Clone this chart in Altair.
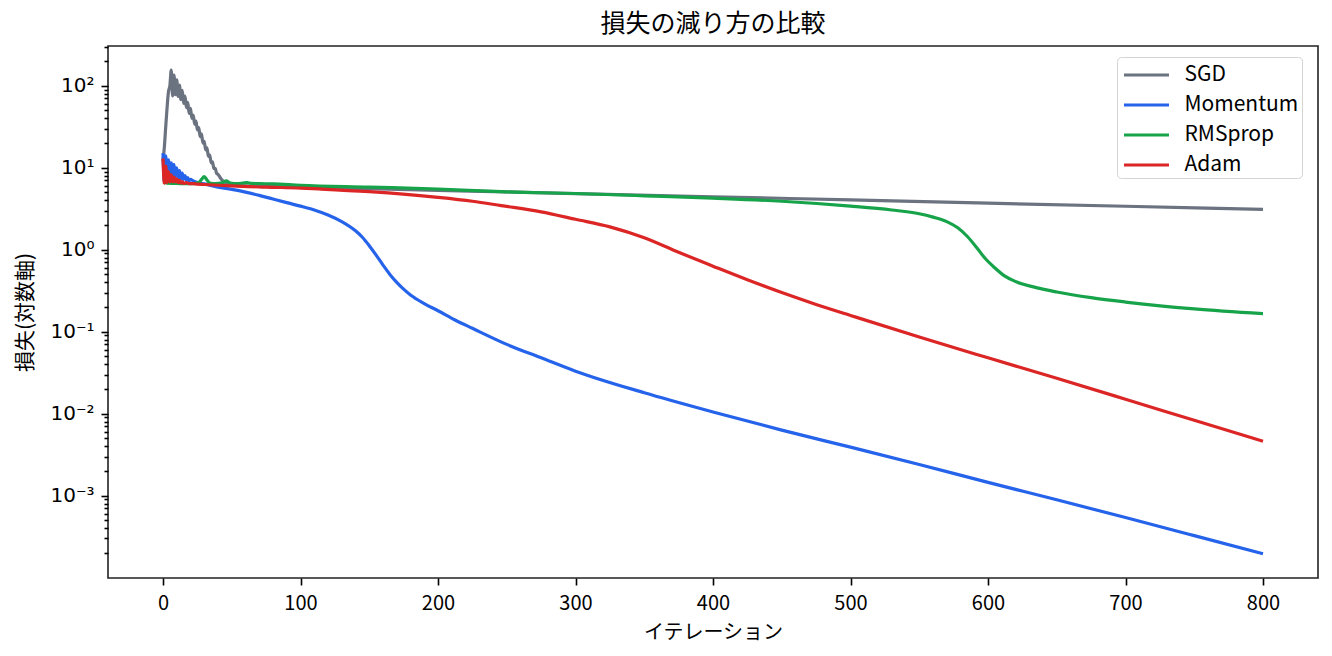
import math
import altair as alt
import pandas as pd

names = ["SGD", "Momentum", "RMSprop", "Adam"]
colors = ["#6b7280", "#2563eb", "#16a34a", "#dc2626"]

sgd_iter = [0, 1, 2, 3, 4, 5, 6, 7, 8, 9, 10, 11, 12, 13, 14, 15, 16, 17, 18, 19, 20,
            21, 22, 23, 24, 25, 26, 27, 28, 29, 30, 31, 32, 33, 34, 35, 36, 37, 38, 39, 40,
            42, 45, 50, 60, 80, 100, 200, 250, 300, 400, 500, 600, 700, 800]
sgd_loss = [12, 18, 32, 55, 85, 100, 155, 75, 135, 78, 118, 74, 102, 68, 88, 61, 75, 54, 63, 46, 53,
            40, 44, 34, 37, 29, 31, 24, 26, 20, 21, 16.5, 17.5, 13.8, 14.3, 11.5, 11.8, 9.8, 9.8, 8.5, 8.3,
            7.4, 6.6, 6.2, 6.0, 5.9, 5.8, 5.3, 5.07, 4.84, 4.43, 4.05, 3.7, 3.39, 3.1]

mom_iter = [0, 1, 2, 3, 4, 5, 6, 7, 8, 9, 10, 11, 12, 13, 14, 15, 16, 17, 18, 19, 20,
            22, 25, 30, 40, 50, 60, 70, 80, 90, 100, 110, 120, 130, 140, 145, 150, 155, 160,
            165, 170, 175, 180, 190, 200, 212, 225, 250, 275, 300, 350, 400, 450, 500, 550,
            600, 650, 700, 750, 800]
mom_loss = [15, 6.8, 14, 7.2, 12.5, 7.6, 11.5, 7.8, 11, 7.8, 10, 7.5, 9.2, 7.3, 8.6, 7.2, 8.0, 7.0, 7.6, 6.9, 7.2,
            6.9, 6.6, 6.35, 5.8, 5.45, 5.05, 4.6, 4.15, 3.75, 3.4, 3.05, 2.65, 2.2, 1.7, 1.42, 1.12, 0.86, 0.65,
            0.5, 0.4, 0.33, 0.28, 0.22, 0.18, 0.14, 0.11, 0.07, 0.048, 0.033, 0.018, 0.0105, 0.0063, 0.0039, 0.0024,
            0.00145, 0.00089, 0.00054, 0.000325, 0.000195]

rms_iter = [0, 3, 8, 15, 22, 26, 28, 30, 32, 34, 38, 43, 46, 49, 54, 58, 61, 64, 70, 80, 100,
            150, 200, 246, 300, 350, 400, 450, 500, 530, 550, 560, 570, 578, 585, 592, 598, 605,
            612, 620, 635, 650, 675, 700, 750, 800]
rms_loss = [6.6, 6.5, 6.45, 6.4, 6.4, 6.6, 7.2, 7.8, 7.1, 6.5, 6.4, 6.55, 6.9, 6.5, 6.4, 6.5, 6.6, 6.45, 6.4, 6.35, 6.1,
            5.8, 5.5, 5.1, 4.85, 4.55, 4.25, 3.9, 3.4, 3.05, 2.75, 2.5, 2.2, 1.85, 1.45, 1.05, 0.78, 0.6,
            0.48, 0.41, 0.345, 0.305, 0.26, 0.23, 0.19, 0.166]

adam_iter = [0, 1, 2, 3, 4, 5, 6, 7, 8, 9, 10, 11, 12, 13, 14, 15, 17, 19, 22, 25, 30,
             50, 75, 100, 115, 150, 200, 225, 246, 275, 300, 325, 350, 375, 400, 425, 450,
             475, 500, 550, 600, 650, 700, 750, 800]
adam_loss = [13, 6.5, 10.5, 6.6, 9, 6.7, 8.2, 6.7, 7.7, 6.7, 7.3, 6.6, 7.0, 6.5, 6.8, 6.45, 6.6, 6.4, 6.4, 6.3, 6.25,
             6.0, 5.8, 5.65, 5.5, 5.1, 4.35, 3.9, 3.45, 2.9, 2.35, 1.9, 1.4, 0.93, 0.63, 0.43, 0.3,
             0.215, 0.158, 0.086, 0.048, 0.027, 0.015, 0.0083, 0.0046]

series = [(sgd_iter, sgd_loss), (mom_iter, mom_loss), (rms_iter, rms_loss), (adam_iter, adam_loss)]
rows = []
for name, (its, vals) in zip(names, series):
    for i, v in zip(its, vals):
        rows.append({"iteration": i, "loss": v, "optimizer": name})
df = pd.DataFrame(rows)

# matplotlib-like 5% margin in log space
lo = math.log10(df["loss"].min())
hi = math.log10(df["loss"].max())
m = 0.05 * (hi - lo)
ydom = [10 ** (lo - m), 10 ** (hi + m)]

major = [10.0 ** e for e in range(-3, 3)]
minor = [k * 10.0 ** e for e in range(-5, 3) for k in range(2, 10)
         if ydom[0] <= k * 10.0 ** e <= ydom[1]]
yvals = sorted(major + minor)

is_dec = "abs(log(datum.value)/LN10 - round(log(datum.value)/LN10)) < 0.001"
label_expr = (is_dec + " ? '10' + (round(log(datum.value)/LN10) < 0 ? '\u207b' : '') + "
              "['\u2070','\u00b9','\u00b2','\u00b3','\u2074','\u2075'][abs(round(log(datum.value)/LN10))] : ''")

JP = "Noto Sans CJK JP"

x_enc = alt.X("iteration:Q",
              scale=alt.Scale(domain=[-40, 840], nice=False, zero=False),
              axis=alt.Axis(values=list(range(0, 801, 100)), format="d", tickSize=7, tickWidth=1.6,
                            tickColor="black", labelFont=JP, labelFontSize=20, labelColor="black",
                            labelPadding=8, labelFlush=False, title="イテレーション", titleFont=JP,
                            titleFontSize=20, titleFontWeight="normal", titleColor="black",
                            titlePadding=9, grid=False, domain=False))
y_enc = alt.Y("loss:Q",
              scale=alt.Scale(type="log", domain=ydom, nice=False),
              axis=alt.Axis(values=yvals, labelExpr=label_expr,
                            tickSize={"condition": {"test": is_dec, "value": 7}, "value": 4},
                            tickWidth=1.6, tickColor="black", labelFont="DejaVu Sans", labelFontSize=20,
                            labelColor="black", labelPadding=7, title="損失(対数軸)", titleFont=JP,
                            titleFontSize=21, titleFontWeight="normal", titleColor="black",
                            titlePadding=14, grid=False, domain=False))
c_enc = alt.Color("optimizer:N",
                  scale=alt.Scale(domain=names, range=colors),
                  legend=alt.Legend(title=None, orient="none", legendX=1009, legendY=11, padding=3,
                                    symbolType="M-1.73,0H1.73", symbolSize=676, symbolStrokeWidth=3.2,
                                    symbolOffset=11.5, labelOffset=23, labelFont=JP, labelFontSize=21,
                                    labelColor="black", rowPadding=5, strokeColor="#d4d4d4",
                                    cornerRadius=4, fillColor="white"))

base = alt.Chart(df).mark_line(strokeWidth=3.2, clip=True, interpolate="monotone").encode(
    x=x_enc, y=y_enc, color=c_enc)
layers = [base.transform_filter(alt.datum.optimizer == n) for n in names]

chart = alt.layer(*layers).properties(
    width=1210, height=532,
    autosize=alt.AutoSizeParams(type="none"),
    padding={"left": 108, "top": 46, "right": 14, "bottom": 78},
    background="white",
    title=alt.Title("損失の減り方の比較", font=JP, fontSize=25, fontWeight="normal",
                    color="black", anchor="middle", offset=9),
).configure_view(stroke="#222222", strokeWidth=1.6)

chart.save("out.html", embed_options={"renderer": "svg", "actions": False})
